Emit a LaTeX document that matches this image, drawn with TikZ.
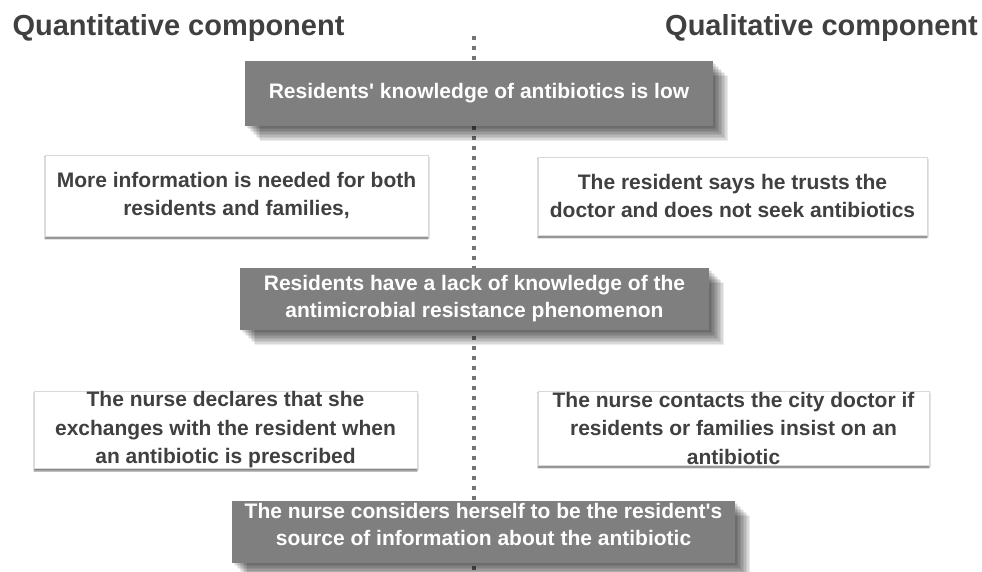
\documentclass[tikz,border=0pt]{standalone}
\usepackage{fontspec}
\setmainfont{Liberation Sans}
\usetikzlibrary{shadows.blur}

\definecolor{txtgrey}{HTML}{404040}
\definecolor{boxgrey}{HTML}{7F7F7F}
\definecolor{edgegrey}{HTML}{D9D9D9}
\definecolor{dotgrey}{HTML}{737373}

\begin{document}
\begin{tikzpicture}[x=1pt, y=-1pt,
    heading/.style={font=\fontsize{29}{34}\selectfont\bfseries, text=txtgrey, inner sep=0pt},
    boxtext/.style={font=\fontsize{21}{27}\selectfont\bfseries, align=center, inner sep=0pt},
    shadestep/.style={preaction={fill=black, fill opacity=0.08,
        transform canvas={shift={(#1pt,-#1pt)}}}},
    softshadow/.style={shadestep/.list={1.5,3,4.5,6,7.5,9,10.5,12,13.5,15}},
    greybox/.style={boxtext, softshadow, fill=boxgrey, text=white},
    whitebox/.style={boxtext, font=\fontsize{21}{28.5}\selectfont\bfseries,
        fill=white, draw=edgegrey, line width=0.8pt, text=txtgrey,
        blur shadow={shadow xshift=0pt, shadow yshift=-2pt, shadow blur radius=1pt, shadow opacity=55}},
    dotline/.style={draw=dotgrey, line width=4pt, dash pattern=on 4pt off 6pt}
  ]
  \useasboundingbox[fill=white] (0,0) rectangle (982,571);

  % middle divider
  \coordinate (top) at (474,36);
  \coordinate (bottom) at (474,571);
  \draw[dotline] (top) -- (bottom);

  % headings
  \node[heading] (quant) at (178.5,28) {Quantitative component};
  \node[heading] (qual) at (821.5,28) {Qualitative component};

  % shared findings
  \node[greybox, minimum width=468pt, minimum height=65pt] (low) at (479,93.5)
    {Residents\textquotesingle{} knowledge of antibiotics is low};
  \node[greybox, minimum width=469pt, minimum height=62pt] (amr) at (474.5,299)
    {Residents have a lack of knowledge of the\\antimicrobial resistance phenomenon};
  \node[greybox, minimum width=503pt, minimum height=62pt, text depth=16pt] (source) at (483.5,532)
    {The nurse considers herself to be the resident\textquotesingle s\\source of information about the antibiotic};

  % quantitative side
  \node[whitebox, minimum width=383pt, minimum height=81pt] (info) at (236.5,195.5)
    {More information is needed for both\\residents and families,};
  \node[whitebox, minimum width=383pt, minimum height=76pt] (exch) at (225.5,430)
    {The nurse declares that she\\exchanges with the resident when\\an antibiotic is prescribed};

  % qualitative side
  \node[whitebox, minimum width=389pt, minimum height=78pt] (trust) at (732.5,196)
    {The resident says he trusts the\\doctor and does not seek antibiotics};
  \node[whitebox, minimum width=391pt, minimum height=74pt] (city) at (733.5,428)
    {The nurse contacts the city doctor if\\residents or families insist on an\\antibiotic};
\end{tikzpicture}
\end{document}
